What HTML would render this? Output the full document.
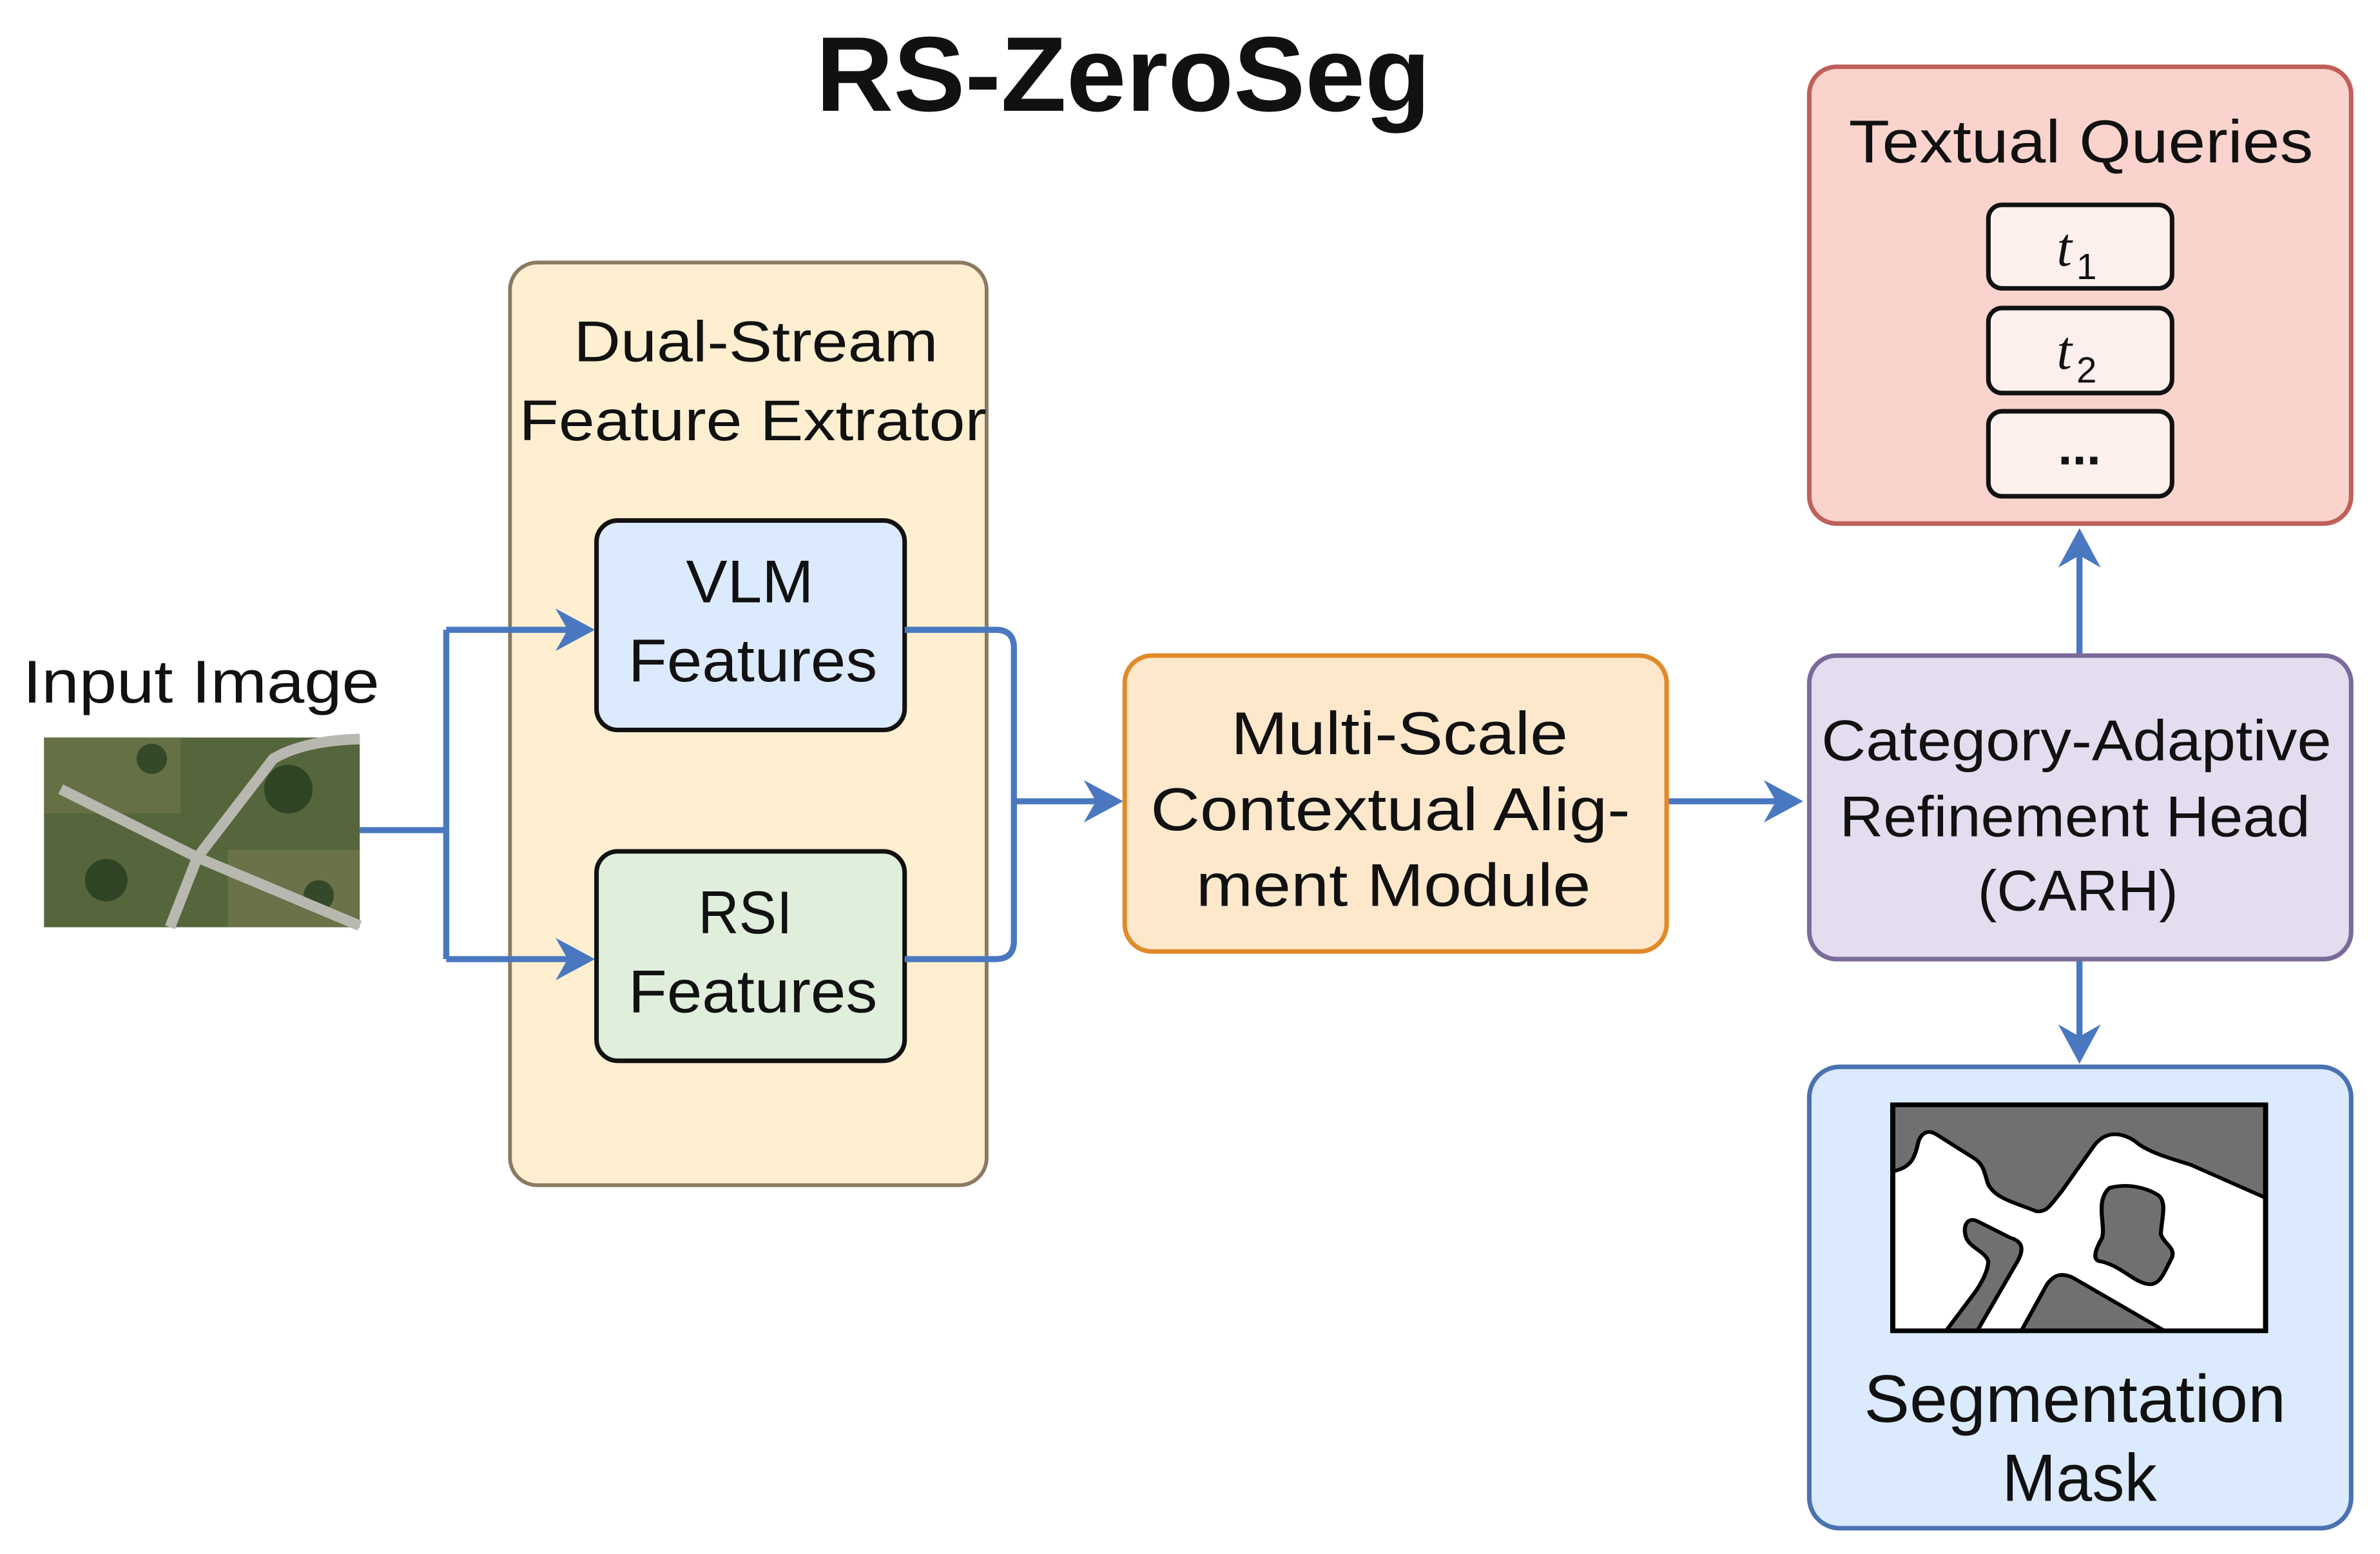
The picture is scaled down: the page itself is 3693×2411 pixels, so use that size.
<!DOCTYPE html>
<html><head><meta charset="utf-8"><style>html,body{margin:0;padding:0;background:#fff}svg{display:block}</style></head>
<body>
<svg width="3693" height="2411" viewBox="0 0 1568 1024" preserveAspectRatio="none" xmlns="http://www.w3.org/2000/svg" font-family="Liberation Sans, DejaVu Sans, sans-serif">
<defs>
<marker id="ah" markerWidth="10" markerHeight="10" refX="8" refY="5" orient="auto" markerUnits="userSpaceOnUse" viewBox="0 0 10 10">
</marker>
</defs>
<rect width="1568" height="1024" fill="#fff"/>
<text x="740" y="73" font-size="70" font-weight="bold" text-anchor="middle" textLength="405" lengthAdjust="spacingAndGlyphs" fill="#111">RS-ZeroSeg</text>

<!-- Dual stream -->
<rect x="336" y="173" width="314" height="608" rx="18" fill="#fdefd0" stroke="#8a7a62" stroke-width="2.5"/>
<text x="498" y="238" font-size="38" text-anchor="middle" textLength="240" lengthAdjust="spacingAndGlyphs" fill="#111">Dual-Stream</text>
<text x="496" y="290" font-size="38" text-anchor="middle" textLength="308" lengthAdjust="spacingAndGlyphs" fill="#111">Feature Extrator</text>
<rect x="393" y="343" width="203" height="138" rx="14" fill="#dbeafc" stroke="#111" stroke-width="3"/>
<text x="494" y="397" font-size="40" text-anchor="middle" textLength="84" lengthAdjust="spacingAndGlyphs" fill="#111">VLM</text>
<text x="496" y="449" font-size="40" text-anchor="middle" textLength="164" lengthAdjust="spacingAndGlyphs" fill="#111">Features</text>
<rect x="393" y="561" width="203" height="138" rx="14" fill="#e0eedc" stroke="#111" stroke-width="3"/>
<text x="491" y="615" font-size="40" text-anchor="middle" textLength="62" lengthAdjust="spacingAndGlyphs" fill="#111">RSI</text>
<text x="496" y="667" font-size="40" text-anchor="middle" textLength="164" lengthAdjust="spacingAndGlyphs" fill="#111">Features</text>

<!-- input -->
<text x="15" y="463" font-size="40" textLength="235" lengthAdjust="spacingAndGlyphs" fill="#111">Input Image</text>
<rect x="29" y="486" width="208" height="125" fill="#55653c"/>
<rect x="29" y="486" width="90" height="50" fill="#6f7a4a" opacity=".6"/>
<rect x="150" y="560" width="87" height="51" fill="#7a7a50" opacity=".6"/>
<circle cx="70" cy="580" r="14" fill="#2f4424"/><circle cx="190" cy="520" r="16" fill="#2f4424"/><circle cx="100" cy="500" r="10" fill="#34492a"/><circle cx="210" cy="590" r="10" fill="#34492a"/>
<path d="M40 520 L130 565 L237 610 M130 565 L180 500 Q200 488 237 487 M130 565 L112 611" stroke="#b8b8b0" stroke-width="7" fill="none"/>

<g stroke="#4a78c0" stroke-width="4" fill="none">
<path d="M237 547 H294 M294 415 V632 M294 415 H386 M294 632 H386"/>
<path d="M596 415 H656 Q668 415 668 427 V620 Q668 632 656 632 H596"/>
<path d="M668 528 H736"/>
<path d="M1098 528 H1184"/>
<path d="M1370 432 V352"/>
<path d="M1370 632 V697"/>
</g>
<g fill="#4a78c0">
<path d="M392 415 L366 401 L374 415 L366 429 Z"/>
<path d="M392 632 L366 618 L374 632 L366 646 Z"/>
<path d="M740 528 L714 514 L722 528 L714 542 Z"/>
<path d="M1188 528 L1162 514 L1170 528 L1162 542 Z"/>
<path d="M1370 348 L1356 374 L1370 366 L1384 374 Z"/>
<path d="M1370 701 L1356 675 L1370 683 L1384 675 Z"/>
</g>

<!-- MSCA -->
<rect x="741" y="432" width="357" height="195" rx="18" fill="#fde8cc" stroke="#e08a2a" stroke-width="3"/>
<text x="922" y="497" font-size="40" text-anchor="middle" textLength="222" lengthAdjust="spacingAndGlyphs" fill="#111">Multi-Scale</text>
<text x="916" y="547" font-size="40" text-anchor="middle" textLength="316" lengthAdjust="spacingAndGlyphs" fill="#111">Contextual Alig-</text>
<text x="918" y="597" font-size="40" text-anchor="middle" textLength="260" lengthAdjust="spacingAndGlyphs" fill="#111">ment Module</text>

<!-- CARH -->
<rect x="1192" y="432" width="357" height="200" rx="18" fill="#e4dcef" stroke="#7a6a9a" stroke-width="3"/>
<text x="1368" y="501" font-size="38" text-anchor="middle" textLength="336" lengthAdjust="spacingAndGlyphs" fill="#111">Category-Adaptive</text>
<text x="1367" y="551" font-size="38" text-anchor="middle" textLength="310" lengthAdjust="spacingAndGlyphs" fill="#111">Refinement Head</text>
<text x="1369" y="600" font-size="38" text-anchor="middle" textLength="132" lengthAdjust="spacingAndGlyphs" fill="#111">(CARH)</text>

<!-- Textual queries -->
<rect x="1192" y="44" width="357" height="301" rx="18" fill="#fad4cc" stroke="#c0605a" stroke-width="3"/>
<text x="1371" y="107" font-size="40" text-anchor="middle" textLength="306" lengthAdjust="spacingAndGlyphs" fill="#111">Textual Queries</text>
<g fill="#fdf0ec" stroke="#111" stroke-width="3">
<rect x="1310" y="135" width="121" height="55" rx="9"/>
<rect x="1310" y="203" width="121" height="56" rx="9"/>
<rect x="1310" y="271" width="121" height="56" rx="9"/>
</g>
<text x="1355" y="175" font-size="36" font-style="italic" font-family="Liberation Serif, serif" fill="#111">t</text>
<text x="1368" y="184" font-size="24" fill="#111">1</text>
<text x="1355" y="243" font-size="36" font-style="italic" font-family="Liberation Serif, serif" fill="#111">t</text>
<text x="1368" y="252" font-size="24" fill="#111">2</text>
<text x="1370" y="306" font-size="34" font-weight="bold" text-anchor="middle" fill="#111">...</text>

<!-- Segmentation -->
<rect x="1192" y="703" width="357" height="304" rx="20" fill="#dbeafc" stroke="#4a72b0" stroke-width="3"/>
<g transform="translate(1247,728) scale(0.242,0.219) translate(-240,-220)">
<rect x="240" y="220" width="1015" height="680" fill="#707070"/>
<path d="M240,420 C290,410 300,380 310,330 C320,300 340,295 360,310 L460,380 C490,400 490,430 500,460 C520,500 560,510 630,540 C660,545 670,520 700,480 L790,340 C820,300 860,300 900,330 C930,360 990,380 1050,400 L1255,500 L1255,900 L980,900 L730,740 C700,725 680,730 660,760 L590,900 L470,900 L580,690 C600,650 590,630 560,620 L470,570 C440,555 430,590 440,620 C450,650 490,660 500,690 C500,720 480,760 460,790 L385,900 L240,900 Z" fill="#fff" stroke="#000" stroke-width="11"/>
<path d="M830,470 C880,455 930,470 960,490 C990,510 970,570 970,610 C980,640 1010,650 1000,680 C980,720 970,760 940,760 C900,760 860,700 800,690 C780,680 800,640 810,620 C820,580 790,510 830,470 Z" fill="#707070" stroke="#000" stroke-width="11"/>
<rect x="240" y="220" width="1015" height="680" fill="none" stroke="#000" stroke-width="14"/>
</g>
<text x="1367" y="937" font-size="44" text-anchor="middle" textLength="278" lengthAdjust="spacingAndGlyphs" fill="#111">Segmentation</text>
<text x="1370" y="989" font-size="44" text-anchor="middle" textLength="102" lengthAdjust="spacingAndGlyphs" fill="#111">Mask</text>
</svg>
</body></html>
